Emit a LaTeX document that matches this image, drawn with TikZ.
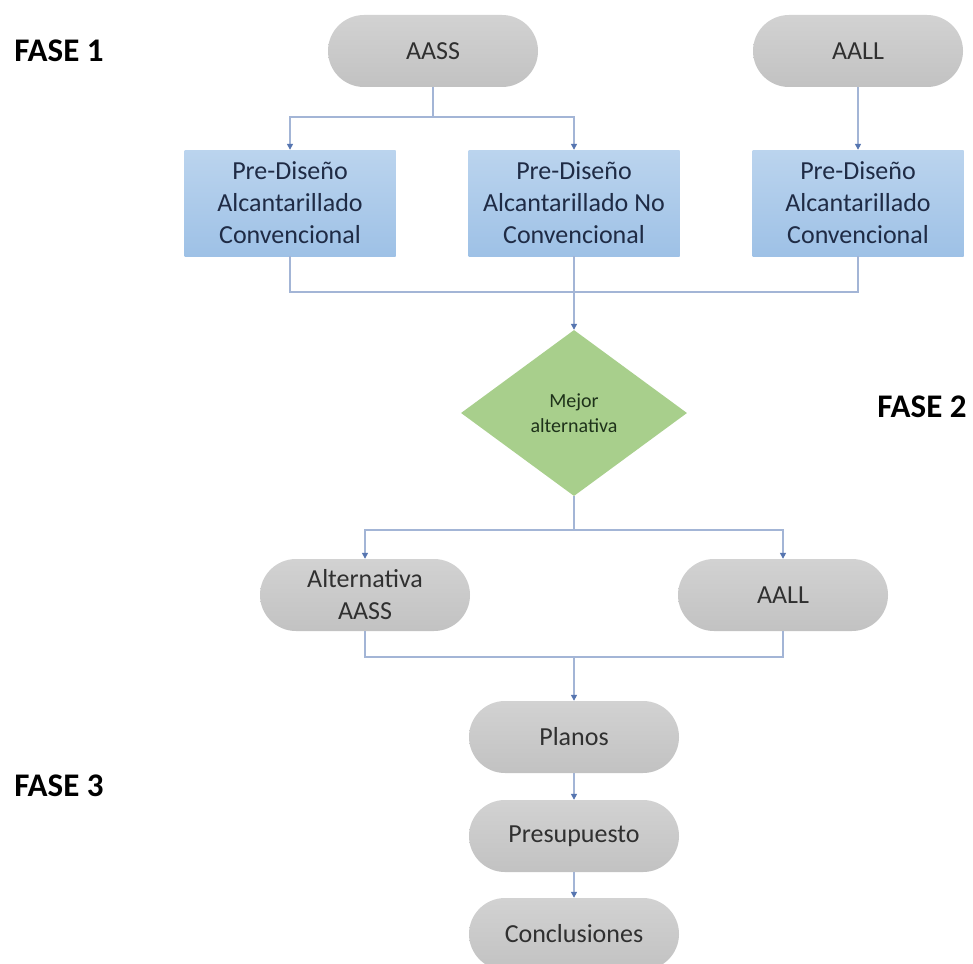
\documentclass[tikz,border=0pt]{standalone}
\usepackage{fontspec}
\setmainfont{Carlito}
\usetikzlibrary{shapes.geometric,arrows.meta}
\definecolor{pillgray}{HTML}{C9C9C9}
\definecolor{pilltop}{HTML}{D2D2D2}
\definecolor{pillbot}{HTML}{C2C2C2}
\definecolor{bluetop}{HTML}{BBD4EE}
\definecolor{bluebot}{HTML}{9EC1E6}
\definecolor{diagreen}{HTML}{A8CF8C}
\definecolor{linec}{HTML}{A3B5D6}
\definecolor{tipc}{HTML}{5675B0}
\definecolor{txtgray}{HTML}{303030}
\definecolor{txtblue}{HTML}{1F2B45}
\definecolor{txtgreen}{HTML}{1E321A}
\begin{document}
\begin{tikzpicture}[x=1pt,y=-1pt,
  pill/.style={rectangle, rounded corners=36pt, minimum width=210pt, minimum height=72pt,
    top color=pilltop, bottom color=pillbot, draw=none, text=txtgray,
    font=\fontsize{26}{32}\selectfont, align=center, inner sep=0pt},
  bluebox/.style={rectangle, minimum width=211pt, minimum height=106pt,
    top color=bluetop, bottom color=bluebot, draw=none, text=txtblue,
    font=\fontsize{26}{32}\selectfont, align=center, inner sep=0pt},
  decision/.style={diamond, minimum width=226pt, minimum height=166pt, aspect=1.36,
    fill=diagreen, draw=none, text=txtgreen, inner sep=0pt,
    font=\fontsize{20}{25}\selectfont, align=center},
  phase/.style={font=\fontsize{33}{38}\selectfont\bfseries, text=black, inner sep=0pt},
  conn/.style={draw=linec, line width=1.3pt},
  arr/.style={conn, -{Triangle[length=6pt,width=6pt,color=tipc]}}
]
\useasboundingbox (0,0) rectangle (973,963);
\fill[white] (0,0) rectangle (973,963);

% phase labels
\node[phase] (f1) at (59,51) {FASE 1};
\node[phase] (f2) at (922,407) {FASE 2};
\node[phase] (f3) at (59,786) {FASE 3};

% phase 1
\node[pill] (aass) at (433,51) {AASS};
\node[pill] (aall) at (858,51) {AALL};
\node[bluebox] (b1) at (290,203) {Pre-Diseño\\Alcantarillado\\Convencional};
\node[bluebox] (b2) at (574,203) {Pre-Diseño\\Alcantarillado No\\Convencional};
\node[bluebox] (b3) at (858,203) {Pre-Diseño\\Alcantarillado\\Convencional};

% phase 2
\node[decision] (dia) at (574,413) {Mejor\\alternativa};
\node[pill] (alt) at (365,595) {Alternativa\\AASS};
\node[pill] (aall2) at (783,595) {AALL};

% phase 3
\node[pill] (planos) at (574,737) {Planos};
\node[pill] (presu) at (574,836) {Presupuesto};
\node[pill] (concl) at (574,934) {Conclusiones};

% connectors
\coordinate (j1) at (433,117);
\draw[conn] (aass.south) -- (j1);
\draw[arr] (j1) -| (b1.north);
\draw[arr] (j1) -| (b2.north);
\draw[arr] (aall.south) -- (b3.north);

\coordinate (j2) at (574,292);
\draw[conn] (b1.south) |- (j2);
\draw[conn] (b3.south) |- (j2);
\draw[arr] (b2.south) -- (dia.north);

\coordinate (j3) at (574,530);
\draw[conn] (dia.south) -- (j3);
\draw[arr] (j3) -| (alt.north);
\draw[arr] (j3) -| (aall2.north);

\coordinate (j4) at (574,657);
\draw[conn] (alt.south) |- (j4);
\draw[conn] (aall2.south) |- (j4);
\draw[arr] (j4) -- (planos.north);
\draw[arr] (planos.south) -- (presu.north);
\draw[arr] (presu.south) -- (concl.north);
\end{tikzpicture}
\end{document}
